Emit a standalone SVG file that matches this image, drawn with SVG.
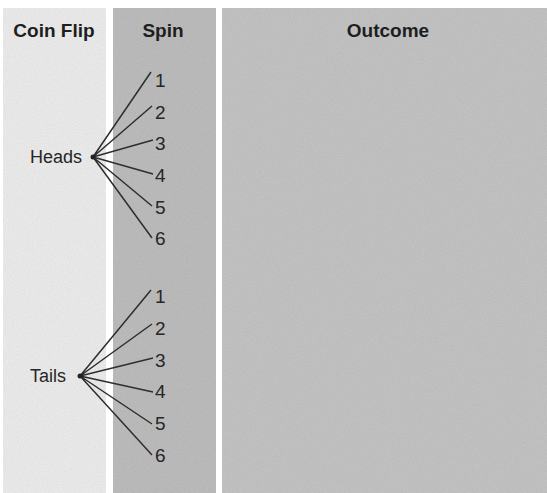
<svg xmlns="http://www.w3.org/2000/svg" width="547" height="493" viewBox="0 0 547 493">
  <defs>
    <filter id="grain" x="0" y="0" width="100%" height="100%">
      <feTurbulence type="fractalNoise" baseFrequency="0.9" numOctaves="2" seed="3" result="n"/>
      <feColorMatrix in="n" type="matrix" values="0 0 0 0 0  0 0 0 0 0  0 0 0 0 0  0 0 0 0.16 0" result="dark"/>
      <feComposite in="dark" in2="SourceGraphic" operator="in" result="d2"/>
      <feMerge><feMergeNode in="SourceGraphic"/><feMergeNode in="d2"/></feMerge>
    </filter>
    <style>
      .hdr { font-family: "Liberation Sans", Arial, sans-serif; font-weight: bold; font-size: 19px; fill: #1e1e1e; text-anchor: middle; }
      .lbl { font-family: "Liberation Sans", Arial, sans-serif; font-size: 18px; fill: #262626; }
      .num { font-family: "Liberation Sans", Arial, sans-serif; font-size: 19px; fill: #262626; }
      .edge { stroke: #2e2e2e; stroke-width: 1.5; fill: none; }
    </style>
  </defs>
  <rect x="0" y="0" width="547" height="493" fill="#ffffff"/>
  <g id="columns" filter="url(#grain)">
    <rect x="3" y="8" width="103" height="485" fill="#efefef"/>
    <rect x="113" y="8" width="103" height="485" fill="#bfbfbf"/>
    <rect x="222" y="8" width="325" height="485" fill="#c6c6c6"/>
  </g>
  <g id="headers">
    <text class="hdr" x="54" y="37">Coin Flip</text>
    <text class="hdr" x="163" y="37">Spin</text>
    <text class="hdr" x="388" y="37">Outcome</text>
  </g>
  <g id="connectors">
    <path class="edge" d="M93 157 L151 72 M93 157 L152 106 M93 157 L153 140 M93 157 L153 174 M93 157 L152 206 M93 157 L152 238"/>
    <path class="edge" d="M80 376 L151 290 M80 376 L152 324 M80 376 L153 358 M80 376 L153 392 M80 376 L152 424 M80 376 L152 455"/>
  </g>
  <g id="heads">
    <text class="lbl" x="30" y="163">Heads</text>
    <circle cx="93" cy="157" r="2.5" fill="#222"/>
  </g>
  <g id="tails">
    <text class="lbl" x="30" y="382">Tails</text>
    <circle cx="80" cy="376" r="2.5" fill="#222"/>
  </g>
  <g id="heads-spins">
    <text class="num" x="155" y="87">1</text>
    <text class="num" x="155" y="119">2</text>
    <text class="num" x="155" y="150">3</text>
    <text class="num" x="155" y="182">4</text>
    <text class="num" x="155" y="214">5</text>
    <text class="num" x="155" y="245">6</text>
  </g>
  <g id="tails-spins">
    <text class="num" x="155" y="303">1</text>
    <text class="num" x="155" y="335">2</text>
    <text class="num" x="155" y="367">3</text>
    <text class="num" x="155" y="398">4</text>
    <text class="num" x="155" y="430">5</text>
    <text class="num" x="155" y="462">6</text>
  </g>
</svg>
